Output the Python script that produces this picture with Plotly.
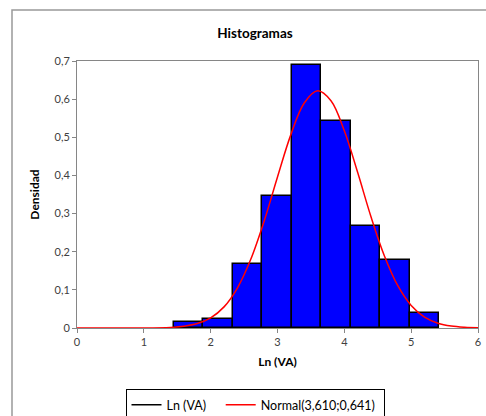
import plotly.graph_objects as go

# Histogram data
bin_edges = [1.445, 1.887, 2.329, 2.771, 3.213, 3.655, 4.097, 4.539, 4.981, 5.423]
densities = [0.015, 0.024, 0.169, 0.346, 0.689, 0.543, 0.268, 0.178, 0.039]

# Normal curve points
curve_x = [0.0, 1.0, 1.4, 1.6, 1.8, 2.0, 2.2, 2.4, 2.6, 2.8, 3.0, 3.2, 3.4, 3.6,
           3.8, 4.0, 4.2, 4.4, 4.6, 4.8, 5.0, 5.2, 5.4, 5.6, 5.8, 6.0]
curve_y = [0.0, 0.0, 0.0016, 0.0046, 0.0116, 0.0265, 0.0554, 0.1048, 0.180, 0.280,
           0.396, 0.507, 0.590, 0.622, 0.596, 0.517, 0.4075, 0.291, 0.189, 0.111,
           0.0593, 0.0287, 0.0126, 0.005, 0.0018, 0.0006]

x_ticks = [0, 1, 2, 3, 4, 5, 6]
y_ticks = [0, 0.1, 0.2, 0.3, 0.4, 0.5, 0.6, 0.7]
y_tick_labels = ["0", "0,1", "0,2", "0,3", "0,4", "0,5", "0,6", "0,7"]

centers = [(a + b) / 2 for a, b in zip(bin_edges[:-1], bin_edges[1:])]
widths = [b - a for a, b in zip(bin_edges[:-1], bin_edges[1:])]

FONT = "Lato"

fig = go.Figure()
fig.add_trace(go.Bar(x=centers, y=densities, width=widths,
                     marker=dict(color="#0000FF", line=dict(color="black", width=1.5)),
                     showlegend=False, name="Ln (VA)"))
fig.add_trace(go.Scatter(x=[None], y=[None], mode="lines",
                         line=dict(color="black", width=1.5),
                         name="Ln (VA)\u00a0\u00a0\u00a0"))
fig.add_trace(go.Scatter(x=curve_x, y=curve_y, mode="lines", line_shape="spline",
                         line=dict(color="#FF0000", width=1.5),
                         name="Normal(3,610;0,641)\u00a0"))

L, R, T, B = 77, 8, 61, 88
W, H = 486, 416
pw = W - L - R
ph = H - T - B

def px_to_paper_x(px):
    return (px - L) / pw

def px_to_paper_y(py):
    return (H - B - py) / ph

fig.update_layout(
    width=W, height=H,
    margin=dict(l=L, r=R, t=T, b=B, autoexpand=False),
    paper_bgcolor="white", plot_bgcolor="white",
    separators=",.",
    font=dict(family=FONT, size=11, color="#404040"),
    title=dict(text="<b>Histogramas</b>", x=px_to_paper_x(255), xref="paper",
               xanchor="center", y=1 - 33 / H, yanchor="middle",
               font=dict(family=FONT, size=13.5, color="black")),
    bargap=0,
    xaxis=dict(range=[0, 6], tickvals=x_ticks, ticks="outside", ticklen=4,
               tickcolor="#868686", linecolor="#868686", linewidth=1, mirror=True,
               showgrid=False, zeroline=False,
               title=dict(text="<b>Ln (VA)</b>", standoff=10,
                          font=dict(family=FONT, size=12, color="black"))),
    yaxis=dict(range=[0, 0.7], tickvals=y_ticks, ticktext=y_tick_labels,
               ticks="outside", ticklen=4, tickcolor="#868686",
               linecolor="#868686", linewidth=1,
               mirror=True, showgrid=False, zeroline=False,
               title=dict(text="<b>Densidad</b>", standoff=12,
                          font=dict(family=FONT, size=12, color="black"))),
    legend=dict(orientation="h", x=px_to_paper_x(255), xanchor="center",
                y=px_to_paper_y(389), yanchor="top",
                bordercolor="black", borderwidth=1, bgcolor="white",
                font=dict(family=FONT, size=12.5, color="black"),
                itemwidth=30, traceorder="normal"),
    shapes=[dict(type="rect", xref="paper", yref="paper",
                 x0=px_to_paper_x(12), x1=px_to_paper_x(500),
                 y0=px_to_paper_y(430), y1=px_to_paper_y(10),
                 line=dict(color="#999999", width=1.5), fillcolor="rgba(0,0,0,0)",
                 layer="below")],
)

fig.write_html("out.html")
